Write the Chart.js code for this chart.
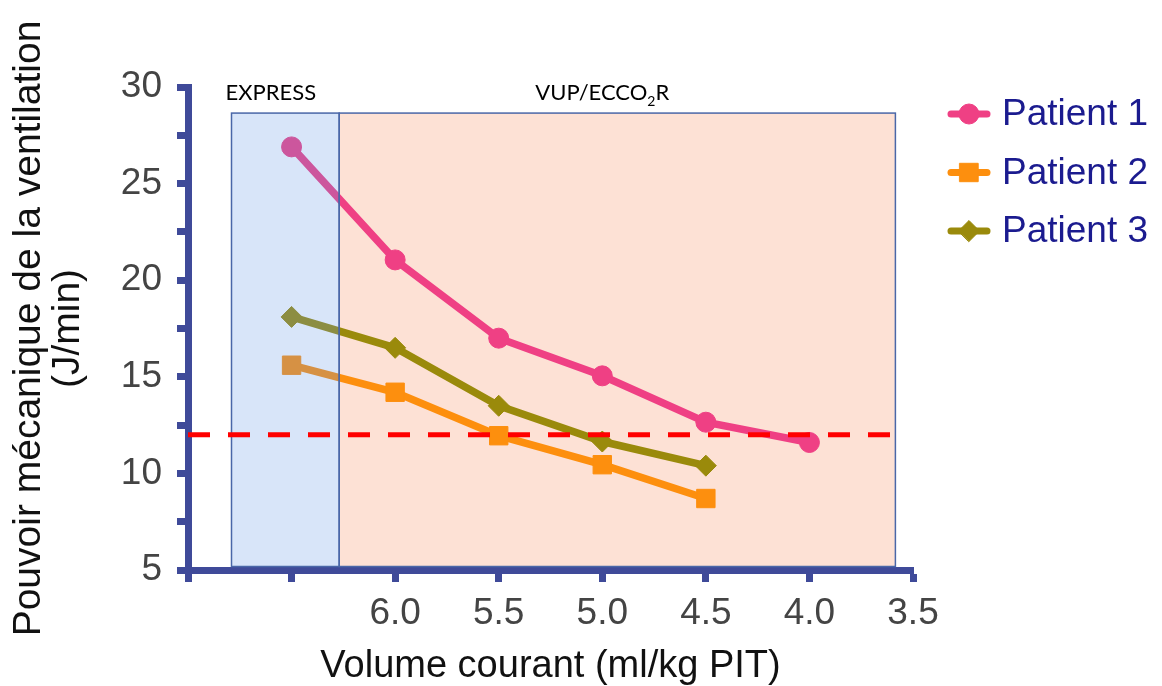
<!DOCTYPE html>
<html><head><meta charset="utf-8">
<script src="https://cdn.jsdelivr.net/npm/chart.js@4/dist/chart.umd.min.js"></script>
<style>html,body{margin:0;padding:0;background:#fff}#wrap{width:1162px;height:686px}</style>
</head><body><div id="wrap"><canvas id="c" width="1162" height="686"></canvas></div>
<script>
// volume courant (ml/kg PIT) at each step
const VT = [6.5, 6.0, 5.5, 5.0, 4.5, 4.0]
const P1 = [26.9, 21.05, 17.0, 15.05, 12.65, 11.6]
const P2 = [15.6, 14.2, 11.95, 10.45, 8.7]
const P3 = [18.1, 16.5, 13.5, 11.65, 10.4]
const XTICKS = [7.0, 6.5, 6.0, 5.5, 5.0, 4.5, 4.0, 3.5]
const SEUIL = 12.0
const EXPRESS = [6.79, 6.27]
const VUP = [6.27, 3.585]
const ZONE_TOP = 28.65

const AX = '#3f4a99'
const FONT = "'Liberation Sans', Arial, sans-serif"
const LABF = "22px Lato, 'Open Sans', sans-serif"
const pts = ys => ys.map((y, i) => ({ x: VT[i], y }))

const zones = {
  id: 'zones',
  beforeDatasetsDraw(chart) {
    const { ctx, scales: { x, y } } = chart
    const t = y.getPixelForValue(ZONE_TOP), b = y.getPixelForValue(5) - 3.5
    ctx.save()
    ctx.fillStyle = '#fde1d5'
    ctx.fillRect(x.getPixelForValue(VUP[0]), t, x.getPixelForValue(VUP[1]) - x.getPixelForValue(VUP[0]), b - t)
    ctx.restore()
  },
  afterDatasetsDraw(chart) {
    const { ctx, scales: { x, y } } = chart
    const t = y.getPixelForValue(ZONE_TOP), b = y.getPixelForValue(5) - 3.5
    const e0 = x.getPixelForValue(EXPRESS[0]), e1 = x.getPixelForValue(EXPRESS[1])
    const v0 = x.getPixelForValue(VUP[0]), v1 = x.getPixelForValue(VUP[1])
    ctx.save()
    ctx.fillStyle = 'rgba(99,151,231,0.25)'
    ctx.fillRect(e0, t, e1 - e0, b - t)
    ctx.strokeStyle = '#4a67a8'
    ctx.lineWidth = 1.5
    ctx.strokeRect(e0, t, e1 - e0, b - t)
    ctx.strokeRect(v0, t, v1 - v0, b - t)
    // seuil
    const ys = y.getPixelForValue(SEUIL)
    ctx.strokeStyle = '#ff0000'
    ctx.lineWidth = 5
    ctx.setLineDash([22, 18])
    ctx.beginPath()
    ctx.moveTo(x.getPixelForValue(7.0), ys)
    ctx.lineTo(v1, ys)
    ctx.stroke()
    ctx.setLineDash([])
    // zone labels
    ctx.fillStyle = '#000'
    ctx.textBaseline = 'alphabetic'
    ctx.font = LABF
    ctx.textAlign = 'center'
    const ly = t - 13
    ctx.fillText('EXPRESS', x.getPixelForValue(6.6), ly)
    const a = 'VUP/ECCO', r = 'R'
    const wa = ctx.measureText(a).width, wr = ctx.measureText(r).width
    ctx.font = "14px Lato, 'Open Sans', sans-serif"
    const ws = ctx.measureText('2').width
    const sx = x.getPixelForValue(5.0) - (wa + ws + wr) / 2
    ctx.textAlign = 'left'
    ctx.fillText('2', sx + wa, ly + 6)
    ctx.font = LABF
    ctx.fillText(a, sx, ly)
    ctx.fillText(r, sx + wa + ws, ly)
    ctx.restore()
  }
}

const legendBox = {
  id: 'legendBox',
  afterDraw(chart) {
    const { ctx } = chart
    ctx.save()
    chart.data.datasets.forEach((ds, i) => {
      const yy = 114 + i * 58.5
      ctx.strokeStyle = ds.borderColor
      ctx.lineWidth = 7
      ctx.lineCap = 'round'
      ctx.beginPath(); ctx.moveTo(951, yy); ctx.lineTo(987, yy); ctx.stroke()
      ctx.fillStyle = ds.borderColor
      ctx.lineWidth = 1
      Chart.helpers.drawPoint(ctx, { pointStyle: ds.pointStyle, radius: ds.pointRadius, borderWidth: 1 }, 969, yy)
      ctx.fillStyle = '#1b1b8f'
      ctx.font = '37px ' + FONT
      ctx.textAlign = 'left'
      ctx.textBaseline = 'middle'
      ctx.fillText(ds.label, 1002, yy + 1)
    })
    ctx.restore()
  }
}

const line = (label, data, color, style, r) => ({
  label, data: pts(data), borderColor: color, backgroundColor: color,
  borderWidth: 7.5, pointStyle: style, pointRadius: r, pointHoverRadius: r,
  pointBorderWidth: 1, pointBorderColor: color, pointBackgroundColor: color, tension: 0
})

new Chart(document.getElementById('c'), {
  type: 'line',
  data: {
    datasets: [
      line('Patient 1', P1, '#ef4084', 'circle', 10),
      line('Patient 2', P2, '#fd8f0e', 'rect', 13),
      line('Patient 3', P3, '#9a8a0b', 'rectRot', 10.5),
    ]
  },
  options: {
    responsive: false, animation: false,
    layout: { padding: { left: 8, top: 87, right: 249, bottom: 0 } },
    plugins: { legend: { display: false }, tooltip: { enabled: false } },
    scales: {
      x: {
        type: 'linear', reverse: true, min: 3.5, max: 7.0,
        afterBuildTicks: s => { s.ticks = XTICKS.map(v => ({ value: v })) },
        afterFit: s => { s.height = 116 },
        ticks: { color: '#444', font: { family: FONT, size: 37 }, padding: 10, maxRotation: 0, autoSkip: false,
          callback: v => v >= 6.5 ? '' : v.toFixed(1) },
        grid: { drawOnChartArea: false, tickLength: 12, tickWidth: 7, tickColor: AX, color: AX },
        border: { color: AX, width: 7 },
        title: { display: true, text: 'Volume courant (ml/kg PIT)', align: 'center', color: '#111',
          font: { family: FONT, size: 38, lineHeight: 1.0 }, padding: { top: 0, bottom: 0 } }
      },
      y: {
        min: 5, max: 30,
        afterFit: s => { s.width = 180 },
        ticks: { stepSize: 2.5, color: '#444', font: { family: FONT, size: 37 }, padding: 15,
          callback: v => v % 5 === 0 ? v : '' },
        grid: { drawOnChartArea: false, tickLength: 11, tickWidth: 7, tickColor: AX, color: AX },
        border: { color: AX, width: 7 },
        title: { display: true, text: ['Pouvoir mécanique de la ventilation', '(J/min)'], color: '#111',
          font: { family: FONT, size: 39, lineHeight: 1.0 }, padding: { top: 2, bottom: 0 } }
      }
    }
  },
  plugins: [zones, legendBox]
})
</script></body></html>
